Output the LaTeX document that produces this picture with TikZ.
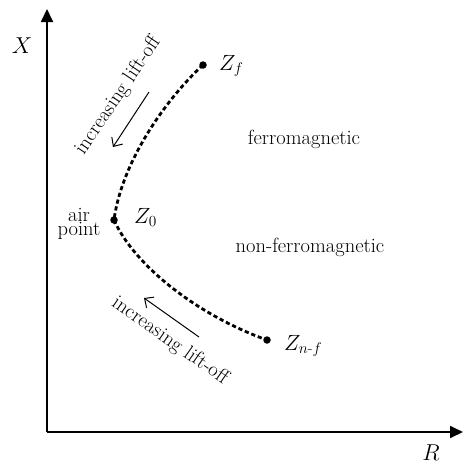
\RequirePackage{fix-cm}
\documentclass[tikz,border=0pt]{standalone}
\usepackage{amsmath}
\usetikzlibrary{arrows.meta}
\begin{document}
\begin{tikzpicture}[x=1pt,y=-1pt,
  axis/.style={line width=1.8pt,-{Triangle[length=13pt,width=12pt]}},
  locus/.style={line width=2.8pt,dash pattern=on 4.2pt off 2.8pt},
  dotpt/.style={circle,fill=black,inner sep=0pt,minimum size=7.5pt},
  lbl/.style={font=\fontsize{20.5}{13}\selectfont,inner sep=0pt},
  zlbl/.style={font=\fontsize{22}{24}\selectfont,inner sep=0pt,anchor=base west},
  liftarrow/.style={line width=1pt,-{Straight Barb[length=7pt,width=13pt]}}]
\useasboundingbox (0,0) rectangle (463,463);
% axes
\coordinate (O) at (47,432);
\coordinate (Xend) at (47,9);
\coordinate (Rend) at (463,432);
\draw[axis] (O) -- (Xend);
\draw[axis] (O) -- (Rend);
\node[lbl,font=\fontsize{23}{24}\selectfont] (Xl) at (22,46) {$X$};
\node[lbl,font=\fontsize{23}{24}\selectfont] (Rl) at (431,453) {$R$};
% points
\node[dotpt] (Zf) at (203,65) {};
\node[dotpt] (Z0) at (114,220) {};
\node[dotpt] (Znf) at (267,340) {};
\draw[locus] (Zf.center) .. controls (168,97) and (122,160) .. (Z0.center);
\draw[locus] (Z0.center) .. controls (134,265) and (197,315) .. (Znf.center);
% labels
\node[zlbl] (Zfl) at (219,70) {$Z_f$};
\node[zlbl] (Z0l) at (134,223) {$Z_0$};
\node[zlbl] (Znfl) at (284,350) {$Z_{n\text{-}f}$};
\node[lbl,align=center] (air) at (79,224) {air\\point};
\node[lbl] (ferro) at (304,139) {ferromagnetic};
\node[lbl] (nonferro) at (310,247) {non-ferromagnetic};
% lift-off
\node[lbl,rotate=56] (liftup) at (118,96) {increasing lift-off};
\node[lbl,rotate=-35] (liftdown) at (170,341) {increasing lift-off};
\coordinate (ua) at (149,92);
\coordinate (ub) at (113,147);
\draw[liftarrow] (ua) -- (ub);
\coordinate (la) at (199,337);
\coordinate (lb) at (144,298);
\draw[liftarrow] (la) -- (lb);
\end{tikzpicture}
\end{document}
